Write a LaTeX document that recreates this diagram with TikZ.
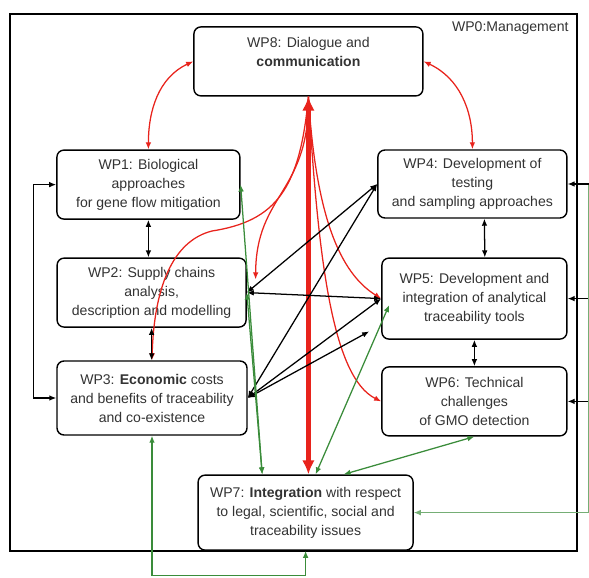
\documentclass[tikz,border=0pt]{standalone}
\usepackage{fontspec}
\setmainfont{Liberation Sans}
\usepackage{tikz}
\usetikzlibrary{arrows.meta,positioning,calc}
\definecolor{WpRed}{HTML}{E8231C}
\definecolor{WpGreen}{HTML}{3A8C3A}

\begin{document}
\begin{tikzpicture}[font=\fontsize{10}{13.5}\selectfont, >={Latex[length=5pt,width=4pt]},
  wp/.style={rounded corners=5pt, draw=black, line width=1pt, fill=white, text=black!80, minimum width=4.7cm, minimum height=1.725cm, align=center, inner sep=2pt},
  frame/.style={draw=black, line width=1pt, minimum width=14.175cm, minimum height=13.425cm, inner sep=0pt},
  link/.style={<->, line width=0.9pt, black},
  talk/.style={<->, line width=0.9pt, WpRed},
  spine/.style={{Latex[length=10pt,width=9pt]}-{Latex[length=10pt,width=9pt]}, line width=3.5pt, WpRed},
  tie/.style={<->, line width=0.9pt, WpGreen}]
\useasboundingbox (0,0) rectangle (14.725,14.425);

\node[frame] (WP0) at (7.34,7.36) {};
\node[anchor=north east, inner sep=3pt, text=black!80] (mgmt) at ([xshift=-0.12cm,yshift=-0.1cm]WP0.north east) {WP0:Management};

\node[wp, minimum width=5.725cm] (WP8) at (7.71,12.89) {WP8: Dialogue and\\\textbf{communication}\\\mbox{}};
\node[wp, minimum width=4.575cm] (WP1) at (3.71,9.81) {WP1: Biological\\approaches\\for gene flow mitigation};
\node[wp, minimum width=4.725cm] (WP2) at (3.79,7.11) {WP2: Supply chains\\analysis,\\description and modelling};
\node[wp, minimum width=4.75cm, minimum height=1.85cm] (WP3) at (3.80,4.475) {WP3: \textbf{Economic} costs\\and benefits of traceability\\and co-existence};
\node[wp, minimum width=4.725cm, minimum height=1.7cm] (WP4) at (11.81,9.825) {WP4: Development of\\testing\\and sampling approaches};
\node[wp, minimum width=4.625cm, minimum height=2.025cm] (WP5) at (11.86,6.96) {WP5: Development and\\integration of analytical\\traceability tools};
\node[wp, minimum width=4.625cm] (WP6) at (11.86,4.39) {WP6: Technical\\challenges\\of GMO detection};
\node[wp, minimum width=5.375cm, minimum height=1.875cm] (WP7) at (7.64,1.61) {WP7: \textbf{Integration} with respect\\to legal, scientific, social and\\traceability issues};

% communication
\draw[talk] (WP8.west) to[out=205,in=90] (WP1.north);
\draw[talk] (WP8.east) to[out=-25,in=90] (WP4.north);
\draw[spine] (WP8.south) -- (WP8.south |- WP7.north);
\coordinate (c2) at ($(WP2.north east)+(0.22,-0.55)$);
\draw[talk,->] (WP8.south) .. controls (7.5,9.7) and (6.9,8.9) .. (5.3,8.65) .. controls (4.3,8.4) and (3.85,7.2) .. (WP3.north);
\draw[talk,->] (WP8.south) .. controls (7.75,9.6) and (6.4,9.6) .. (c2);
\draw[talk,->] (WP8.south) .. controls (7.9,9) and (8.5,7.6) .. (WP5.west);
\draw[talk,->] (WP8.south) .. controls (7.95,8) and (8.3,5.0) .. (WP6.west);

% work package links
\draw[link] (WP1.south) -- (WP1.south |- WP2.north);
\draw[link] (WP2.south) -- (WP2.south |- WP3.north);
\draw[link] ($(WP4.south)+(0.3,0)$) -- ($(WP5.north)+(0.26,0)$);
\draw[link] (WP5.south) -- (WP6.north);
\foreach \a/\b in {WP2/WP4,WP2/WP5,WP3/WP4,WP3/WP5}{\draw[link] (\a.east) -- (\b.west);}
\coordinate (c5) at ($(WP5.west)+(-0.3,-0.82)$);
\draw[link] (WP3.east) -- (c5);
\draw[link] (WP1.west) -- ++(-0.575,0) |- (WP3.west);
\foreach \b in {WP4,WP5,WP6}{\coordinate (in\b) at ($(\b.east)+(0.6,0)$); \draw[link,->] (in\b) -- (\b.east);}

% integration
\coordinate (g7) at ($(WP7.north west)+(1.62,0)$);
\coordinate (g5) at ($(WP5.west)+(0.2,-0.16)$);
\draw[tie] (g7) -- (WP1.east);
\draw[tie] (g7) -- (WP2.east);
\draw[tie] ($(WP7.north)+(0.25,0)$) -- (g5);
\draw[tie] ($(WP7.north)+(0.95,0)$) -- (WP6.south);
\coordinate (gR) at ($(WP4.east)+(0.53,-0.03)$);
\draw[tie,->, line width=0.6pt, WpGreen!70] (gR) |- (WP7.east);
\coordinate (gB) at ($(WP7.south)+(0,-0.62)$);
\draw[tie] (WP3.south) |- (gB) -- (WP7.south);

\end{tikzpicture}
\end{document}
